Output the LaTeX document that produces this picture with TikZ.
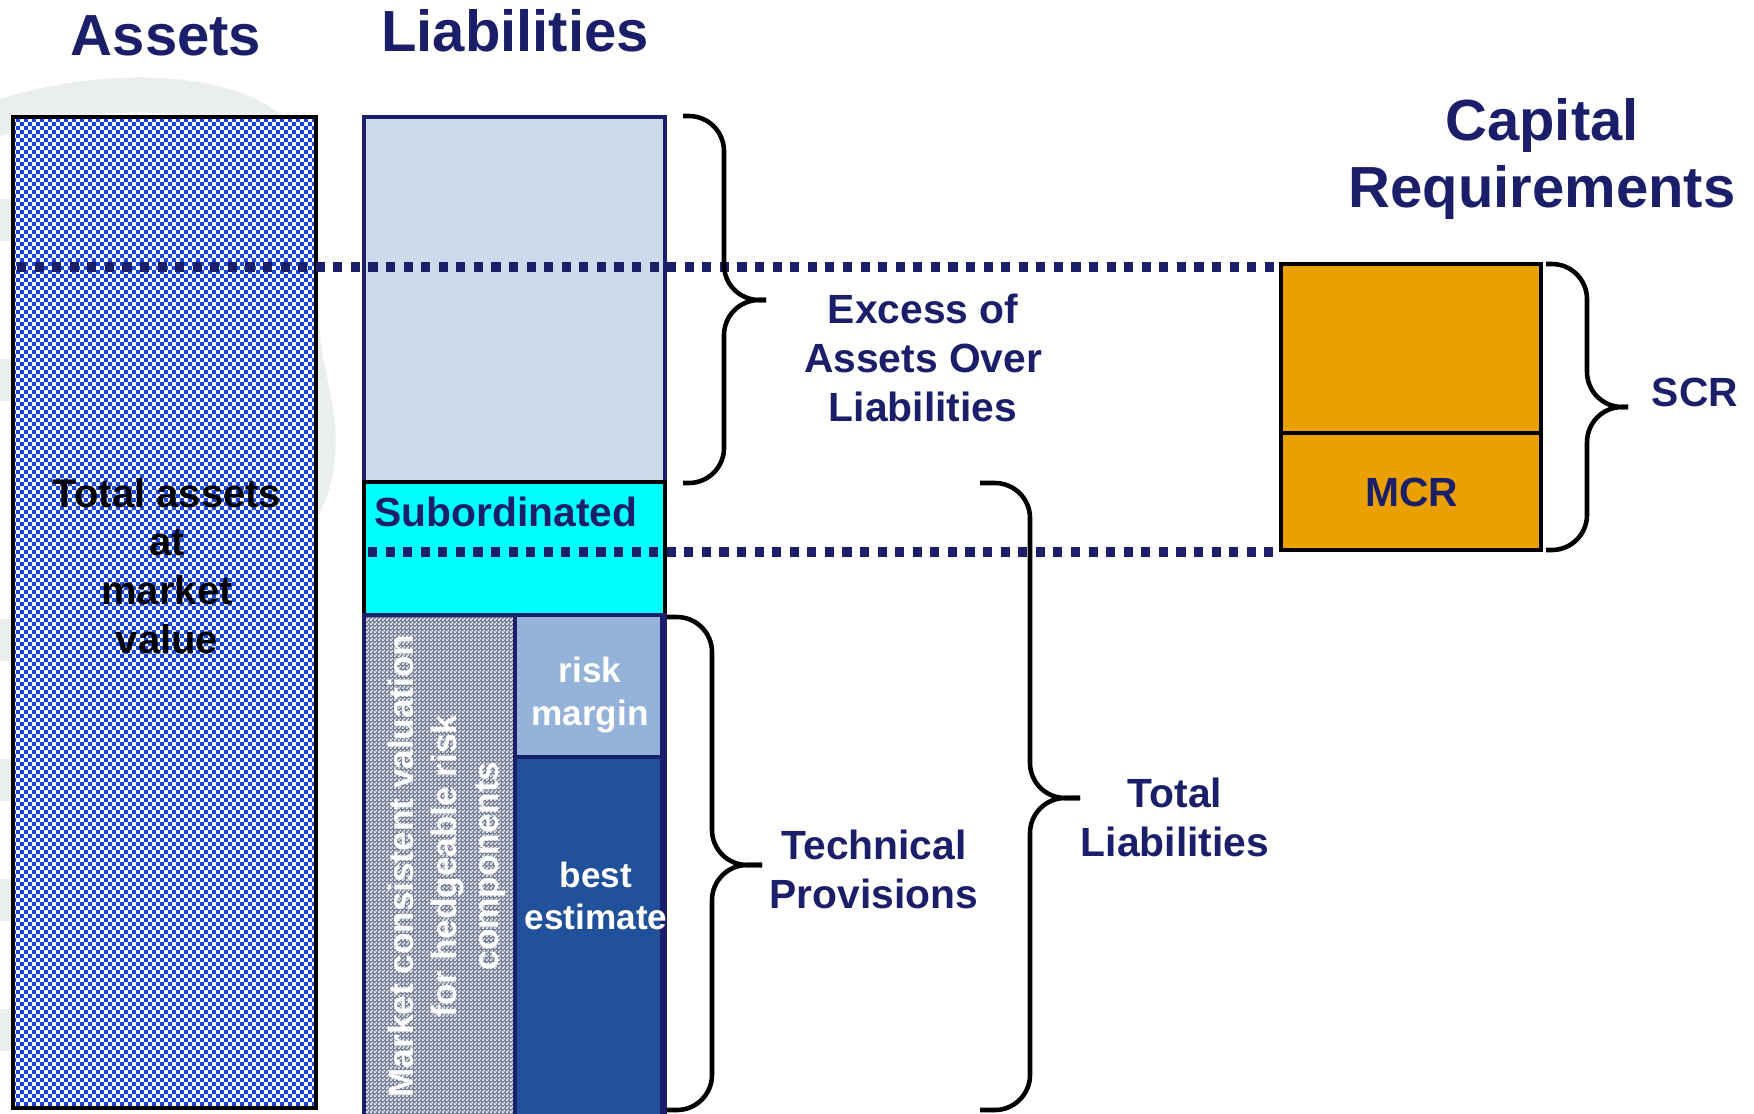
\documentclass[tikz,border=0pt]{standalone}
\usepackage{fontspec}
\setmainfont{Liberation Sans}
\usetikzlibrary{patterns}

\definecolor{navy}{RGB}{27,31,106}
\definecolor{paleblue}{RGB}{204,218,236}
\definecolor{subcyan}{RGB}{0,255,255}
\definecolor{riskblue}{RGB}{149,179,217}
\definecolor{bestblue}{RGB}{33,81,155}
\definecolor{dotblue}{RGB}{22,70,222}
\definecolor{mcgray}{RGB}{118,126,152}
\definecolor{caporange}{RGB}{234,160,0}
\definecolor{logogray}{RGB}{234,239,238}

\pgfdeclarepatternformonly{assetdots}{\pgfqpoint{0pt}{0pt}}{\pgfqpoint{2.4pt}{2.4pt}}{\pgfqpoint{2.4pt}{2.4pt}}{%
  \pgfpathrectangle{\pgfqpoint{0pt}{0pt}}{\pgfqpoint{1.2pt}{1.2pt}}%
  \pgfpathrectangle{\pgfqpoint{1.2pt}{1.2pt}}{\pgfqpoint{1.2pt}{1.2pt}}%
  \pgfusepath{fill}}
\pgfdeclarepatternformonly{finechecker}{\pgfqpoint{0pt}{0pt}}{\pgfqpoint{1pt}{1pt}}{\pgfqpoint{1pt}{1pt}}{%
  \pgfpathrectangle{\pgfqpoint{0pt}{0pt}}{\pgfqpoint{0.5pt}{0.5pt}}%
  \pgfpathrectangle{\pgfqpoint{0.5pt}{0.5pt}}{\pgfqpoint{0.5pt}{0.5pt}}%
  \pgfusepath{fill}}

\tikzset{
  title/.style={text=navy, font=\fontsize{16.5}{19.3}\selectfont\bfseries, align=center, inner sep=0pt},
  sidetext/.style={text=navy, font=\fontsize{11.6}{13.9}\selectfont\bfseries, align=center, inner sep=0pt},
  boxtext/.style={text=white, font=\fontsize{10}{12}\selectfont\bfseries, align=center, inner sep=0pt},
  curly/.style={black, line width=1.3pt, rounded corners=10pt},
  dotline/.style={navy, line width=2.8pt, dash pattern=on 2.6pt off 2.4pt},
}

% brace: start x, top y, bottom y, spine x, tip x, tip y
\newcommand{\curlybrace}[6]{%
  \draw[curly] (#1,#2) -- (#4,#2) -- (#4,#6) -- (#5,#6);
  \draw[curly] (#5,#6) -- (#4,#6) -- (#4,#3) -- (#1,#3);
}

\begin{document}
\begin{tikzpicture}[x=0.1mm, y=-0.1mm]
    \useasboundingbox[fill=white] (0,0) rectangle (1754,1113);

    % faint logo in the background
    \draw[logogray, line width=10pt] (-20,125) .. controls (80,85) and (210,85) .. (265,125)
        .. controls (295,160) and (298,260) .. (302,330) .. controls (306,380) and (318,400) .. (318,440)
        .. controls (318,480) and (308,500) .. (290,530);
    \foreach \yy in {220,380,640,780,900,1030}
        \draw[logogray, line width=12pt] (-20,\yy) -- (20,\yy);

    % assets
    \fill[white] (13,117) rectangle (316,1108);
    \fill[pattern=assetdots, pattern color=dotblue] (13,117) rectangle (316,1108);
    \draw[line width=1.4pt] (13,117) rectangle (316,1108);

    % liabilities column
    \filldraw[fill=paleblue, draw=navy, line width=1.1pt] (364,117) rectangle (665,482);
    \filldraw[fill=subcyan, draw=black, line width=1.3pt] (364,482) rectangle (665,615);
    \fill[mcgray] (364,615) rectangle (515,1120);
    \fill[pattern=finechecker, pattern color=white] (364,615) rectangle (515,1120);
    \filldraw[fill=riskblue, draw=navy, line width=1.1pt] (515,615) rectangle (662,757);
    \filldraw[fill=bestblue, draw=navy, line width=1.1pt] (515,757) rectangle (662,1120);
    \draw[navy, line width=1.1pt] (364,615) rectangle (665,1120);

    % capital requirements
    \filldraw[fill=caporange, draw=black, line width=1.4pt] (1281,264) rectangle (1541,433);
    \filldraw[fill=caporange, draw=black, line width=1.4pt] (1281,433) rectangle (1541,550);

    % dotted levels
    \coordinate (scrtop) at (1279,267);
    \coordinate (mcrtop) at (1279,552);
    \draw[dotline] (17,267) -- (scrtop);
    \draw[dotline] (368,552) -- (mcrtop);

    % braces
    \curlybrace{683}{116}{483}{724}{766}{300}
    \curlybrace{667}{617}{1110}{712}{762}{865}
    \curlybrace{980}{483}{1110}{1030}{1080}{798}
    \curlybrace{1546}{264}{550}{1587}{1628}{407}

    % titles
    \node[title] (assets) at (166,36) {Assets};
    \node[title] (liab) at (515,31) {Liabilities};
    \node[title] (capreq) at (1542,159) {Capital\\Requirements};

    % texts
    \node[text=black, font=\fontsize{11.4}{13.9}\selectfont\bfseries, align=center, inner sep=0pt] (total)
        at (167,566) {Total assets\\at\\market\\value};
    \node[sidetext, anchor=west] (subord) at (374,512) {Subordinated};
    \node[boxtext] (risk) at (590,695) {risk\\margin};
    \node[boxtext] (best) at (596,896) {best\\estimate};
    \node[boxtext, rotate=90] (market) at (447,866) {Market consistent valuation\\for hedgeable risk\\components};
    \node[sidetext] (excess) at (923,358) {Excess of\\Assets Over\\Liabilities};
    \node[sidetext] (techprov) at (874,869) {Technical\\Provisions};
    \node[sidetext] (totliab) at (1175,817) {Total\\Liabilities};
    \node[sidetext] (scr) at (1695,392) {SCR};
    \node[sidetext] (mcr) at (1412,492) {MCR};
\end{tikzpicture}
\end{document}
